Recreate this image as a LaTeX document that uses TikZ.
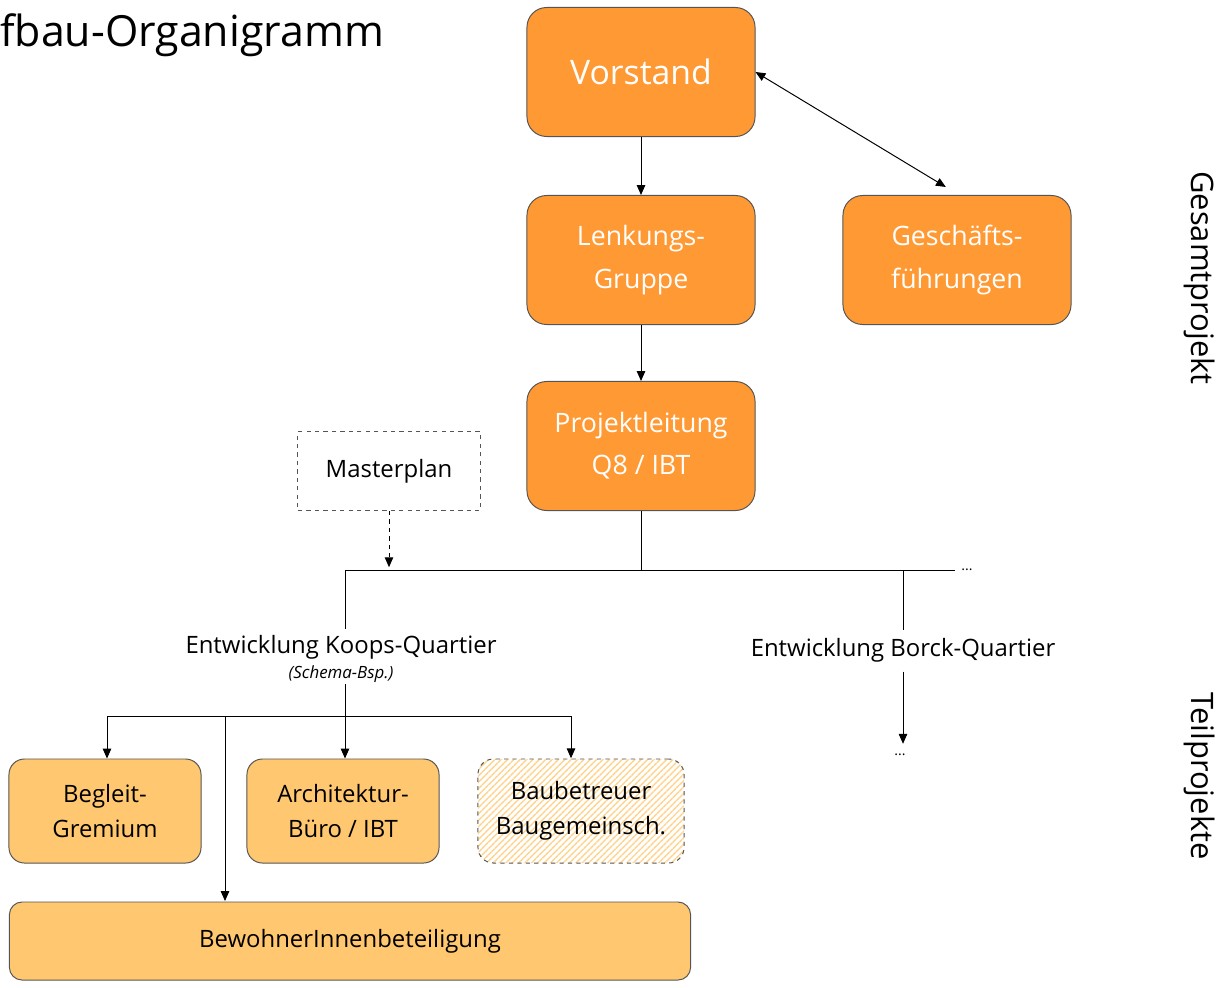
\documentclass[tikz,border=0pt]{standalone}
\usepackage{fontspec}
\setmainfont{Open Sans}
\usetikzlibrary{positioning, shapes, arrows.meta, patterns.meta}

\definecolor{darkorange}{HTML}{FF9933}
\definecolor{lightorange}{HTML}{FFC870}
\definecolor{boxline}{HTML}{555555}

\tikzset{
    topbox/.style={draw=boxline, fill=darkorange, rounded corners=14pt, line width=0.7pt,
        minimum width=5.7cm, minimum height=3.225cm, align=center, text=white,
        font=\fontsize{19}{30}\selectfont},
    subbox/.style={draw=boxline, fill=lightorange, rounded corners=11pt, line width=0.7pt,
        minimum width=4.8cm, minimum height=2.6cm, align=center,
        font=\fontsize{17}{25}\selectfont},
    label17/.style={font=\fontsize{17}{20}\selectfont, inner sep=1pt},
    side/.style={font=\fontsize{22}{26}\selectfont, rotate=-90},
    arr/.style={-{Triangle[length=7pt,width=6pt]}, line width=0.7pt},
    ln/.style={line width=0.7pt}
}

\begin{document}
\begin{tikzpicture}[x=0.025cm, y=-0.025cm]
            \useasboundingbox (0,0) rectangle (1220,987);

            % Gesamtprojekt
            \node[anchor=west, inner sep=0pt, font=\fontsize{30.5}{34}\selectfont] (title) at (0,35) {fbau-Organigramm};
            \node[topbox, font=\fontsize{24}{30}\selectfont] (vor) at (641,72) {Vorstand};
            \node[topbox] (lenk) at (641,260) {Lenkungs-\\Gruppe};
            \node[topbox] (gf) at (957,260) {Geschäfts-\\führungen};
            \node[topbox] (pl) at (641,446) {Projektleitung\\Q8 / IBT};
            \node[draw=boxline, dashed, line width=0.7pt, minimum width=4.55cm, minimum height=1.975cm,
                font=\fontsize{17}{20}\selectfont] (mp) at (389,471) {Masterplan};

            \node[side] (gesamt) at (1200,278) {Gesamtprojekt};
            \node[side] (teil) at (1200,776) {Teilprojekte};

            \draw[arr] (vor) -- (lenk);
            \draw[arr] (lenk) -- (pl);
            \draw[arr, {Triangle[length=7pt,width=6pt]}-{Triangle[length=7pt,width=6pt]}] (vor.east) -- ([xshift=-0.28cm, yshift=0.2cm]gf.north);

            % Verzweigung
            \coordinate (hl) at (345,570);
            \coordinate (hr) at (955,570);
            \node[right=0.15cm of hr, inner sep=0pt, font=\fontsize{10}{12}\selectfont] (moreA) {...};
            \draw[ln] (hl) -- (hr);
            \draw[ln] (pl.south) -- (pl.south |- hl);
            \draw[arr, dashed] (mp.south) -- ([yshift=0.07cm]mp.south |- hl);

            % Teilprojekte
            \node[label17] (koops) at (341,647) {Entwicklung Koops-Quartier};
            \node[inner sep=1pt, font=\fontsize{12}{14}\selectfont\itshape] (schema) at (341,674) {(Schema-Bsp.)};
            \node[label17] (borck) at (903,650) {Entwicklung Borck-Quartier};
            \node[inner sep=0pt, font=\fontsize{10}{12}\selectfont] (moreB) at (900,755) {...};
            \draw[ln] (hl) -- ([yshift=0.1cm]koops.north -| hl);
            \draw[ln] (borck.north |- hl) -- ([yshift=0.15cm]borck.north);
            \draw[arr] ([yshift=-0.2cm]borck.south) -- ([yshift=0.25cm]borck.south |- moreB.north);

            \node[subbox] (beg) at (105,811) {Begleit-\\Gremium};
            \node[subbox] (arch) at (343,811) {Architektur-\\Büro / IBT};
            \node[subbox, draw=boxline, dashed, minimum width=5.15cm, fill=white,
                pattern={Lines[angle=45, distance=3.2pt, line width=1pt]}, pattern color=lightorange!80]
                (baub) at (581,811) {Baubetreuer\\Baugemeinsch.};
            \node[subbox, minimum width=17.025cm, minimum height=1.95cm, rounded corners=9pt] (bew) at (350,941) {BewohnerInnenbeteiligung};

            \coordinate (kl) at (107,716);
            \coordinate (kr) at (571,716);
            \draw[ln] (schema.south -| hl) -- (hl |- kl);
            \draw[ln] (kl) -- (kr);
            \draw[arr] (kl) -- (kl |- beg.north);
            \draw[arr] (hl |- kl) -- (hl |- arch.north);
            \draw[arr] (kr) -- (kr |- baub.north);
            \draw[arr] (225,716) -- (225,901);
        \end{tikzpicture}
\end{document}
